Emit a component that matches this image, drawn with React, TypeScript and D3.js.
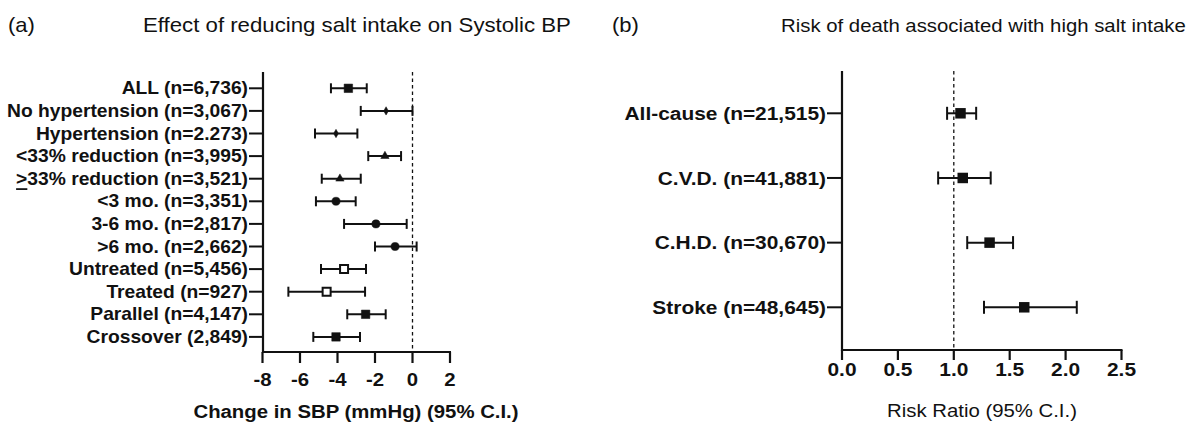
import React from "react";
import * as d3 from "d3";

// ---------- Data: panel (a) ----------
const catsA = [
  "ALL (n=6,736)",
  "No hypertension (n=3,067)",
  "Hypertension (n=2.273)",
  "<33% reduction (n=3,995)",
  ">33% reduction (n=3,521)",
  "<3 mo. (n=3,351)",
  "3-6 mo. (n=2,817)",
  ">6 mo. (n=2,662)",
  "Untreated (n=5,456)",
  "Treated (n=927)",
  "Parallel (n=4,147)",
  "Crossover (2,849)",
];
const estA = [-3.42, -1.41, -4.08, -1.47, -3.87, -4.08, -1.95, -0.93, -3.65, -4.58, -2.5, -4.08];
const loA = [-4.35, -2.76, -5.2, -2.36, -4.84, -5.15, -3.65, -2.0, -4.88, -6.62, -3.48, -5.29];
const hiA = [-2.44, 0.0, -2.94, -0.61, -2.76, -3.03, -0.31, 0.22, -2.48, -2.53, -1.43, -2.8];
const markerA = ["square", "diamond", "diamond", "triangle", "triangle", "circle", "circle", "circle", "open", "open", "square", "square"];
const ticksA = [-8, -6, -4, -2, 0, 2];

// ---------- Data: panel (b) ----------
const catsB = ["All-cause (n=21,515)", "C.V.D. (n=41,881)", "C.H.D. (n=30,670)", "Stroke (n=48,645)"];
const estB = [1.06, 1.08, 1.32, 1.63];
const loB = [0.94, 0.86, 1.12, 1.27];
const hiB = [1.2, 1.33, 1.53, 2.1];
const ticksB = [0, 0.5, 1.0, 1.5, 2.0, 2.5];

const FONT = "'Liberation Sans', Arial, Helvetica, sans-serif";
const SX = 1.1;

function T({ x, y, size, bold, anchor, children, baseline }: any) {
  return (
    <text
      transform={`translate(${x},${y}) scale(${SX},1)`}
      fontFamily={FONT}
      fontSize={size}
      fontWeight={bold ? "bold" : "normal"}
      textAnchor={anchor || "start"}
      dominantBaseline={baseline || "auto"}
      fill="#111"
    >
      {children}
    </text>
  );
}

function symbolPath(kind: string) {
  const g = d3.symbol();
  if (kind === "square") return g.type(d3.symbolSquare).size(72)();
  if (kind === "open") return g.type(d3.symbolSquare).size(64)();
  if (kind === "diamond") return g.type(d3.symbolDiamond).size(20)();
  if (kind === "triangle") return g.type(d3.symbolTriangle).size(30)();
  if (kind === "circle") return g.type(d3.symbolCircle).size(52)();
  if (kind === "bigsquare") return g.type(d3.symbolSquare).size(110)();
  return g();
}

function renderLabel(s: string) {
  if (s.startsWith(">33%")) {
    return (
      <>
        <tspan textDecoration="underline">{">"}</tspan>
        {s.slice(1)}
      </>
    );
  }
  return s;
}

export default function App() {
  // Panel a scales
  const xA = d3.scaleLinear().domain([-8, 2]).range([262.5, 450]);
  const yA = d3.scalePoint<string>().domain(catsA).range([88.3, 336.9]);
  const axA = { x: 263, top: 72, bottom: 352 };

  // Panel b scales
  const xB = d3.scaleLinear().domain([0, 2.5]).range([842, 1121.5]);
  const yB = d3.scalePoint<string>().domain(catsB).range([113.3, 307.3]);
  const axB = { x: 842, top: 71, bottom: 350 };

  const fmtB = d3.format(".1f");

  return (
    <svg
      width={1193}
      height={425}
      style={{ position: "absolute", left: 0, top: 0, display: "block", background: "#fff" }}
    >
      <rect x={0} y={0} width={1193} height={425} fill="#fff" />

      {/* Titles */}
      <T x={8} y={32} size={20}>(a)</T>
      <T x={143} y={32} size={20.2}>Effect of reducing salt intake on Systolic BP</T>
      <T x={612} y={32} size={20}>(b)</T>
      <T x={781} y={32} size={18.5}>Risk of death associated with high salt intake</T>

      {/* ---------- Panel a ---------- */}
      <line x1={xA(0)} x2={xA(0)} y1={axA.top} y2={axA.bottom} stroke="#111" strokeWidth={1.3} strokeDasharray="3.5,3" />
      <line x1={axA.x} x2={axA.x} y1={axA.top} y2={axA.bottom + 1} stroke="#111" strokeWidth={2.2} />
      <line x1={axA.x - 1} x2={xA(2) + 1} y1={axA.bottom} y2={axA.bottom} stroke="#111" strokeWidth={2.2} />
      {ticksA.map((t) => (
        <g key={t}>
          <line x1={xA(t)} x2={xA(t)} y1={axA.bottom} y2={axA.bottom + 11} stroke="#111" strokeWidth={2.2} />
          <T x={xA(t)} y={386} size={18.5} bold anchor="middle">
            {d3.format("d")(t).replace("−", "-")}
          </T>
        </g>
      ))}
      <T x={356} y={418} size={18.5} bold anchor="middle">Change in SBP (mmHg) (95% C.I.)</T>

      {catsA.map((c, i) => {
        const y = yA(c)!;
        const m = markerA[i];
        return (
          <g key={c}>
            <line x1={249} x2={axA.x} y1={y} y2={y} stroke="#111" strokeWidth={2} />
            <T x={248} y={y} size={17.5} bold anchor="end" baseline="central">
              {renderLabel(c)}
            </T>
            <line x1={xA(loA[i])} x2={xA(hiA[i])} y1={y} y2={y} stroke="#111" strokeWidth={2} />
            <line x1={xA(loA[i])} x2={xA(loA[i])} y1={y - 5} y2={y + 5} stroke="#111" strokeWidth={2} />
            <line x1={xA(hiA[i])} x2={xA(hiA[i])} y1={y - 5} y2={y + 5} stroke="#111" strokeWidth={2} />
            <path
              d={symbolPath(m) || ""}
              transform={`translate(${xA(estA[i])},${y})`}
              fill={m === "open" ? "#fff" : "#111"}
              stroke="#111"
              strokeWidth={m === "open" ? 2 : 0.5}
            />
          </g>
        );
      })}

      {/* ---------- Panel b ---------- */}
      <line x1={xB(1)} x2={xB(1)} y1={axB.top} y2={axB.bottom} stroke="#111" strokeWidth={1.3} strokeDasharray="3.5,3" />
      <line x1={axB.x} x2={axB.x} y1={axB.top} y2={axB.bottom + 1} stroke="#111" strokeWidth={2.2} />
      <line x1={axB.x - 1} x2={xB(2.5) + 1} y1={axB.bottom} y2={axB.bottom} stroke="#111" strokeWidth={2.2} />
      {ticksB.map((t) => (
        <g key={t}>
          <line x1={xB(t)} x2={xB(t)} y1={axB.bottom} y2={axB.bottom + 10} stroke="#111" strokeWidth={2.2} />
          <T x={xB(t)} y={375.5} size={19} bold anchor="middle">{fmtB(t)}</T>
        </g>
      ))}
      <T x={982} y={416.5} size={18.5} anchor="middle">Risk Ratio (95% C.I.)</T>

      {catsB.map((c, i) => {
        const y = yB(c)!;
        return (
          <g key={c}>
            <line x1={827} x2={axB.x} y1={y} y2={y} stroke="#111" strokeWidth={2} />
            <T x={826} y={y} size={19} bold anchor="end" baseline="central">{c}</T>
            <line x1={xB(loB[i])} x2={xB(hiB[i])} y1={y} y2={y} stroke="#111" strokeWidth={2} />
            <line x1={xB(loB[i])} x2={xB(loB[i])} y1={y - 6.5} y2={y + 6.5} stroke="#111" strokeWidth={2} />
            <line x1={xB(hiB[i])} x2={xB(hiB[i])} y1={y - 6.5} y2={y + 6.5} stroke="#111" strokeWidth={2} />
            <path d={symbolPath("bigsquare") || ""} transform={`translate(${xB(estB[i])},${y})`} fill="#111" />
          </g>
        );
      })}
    </svg>
  );
}
